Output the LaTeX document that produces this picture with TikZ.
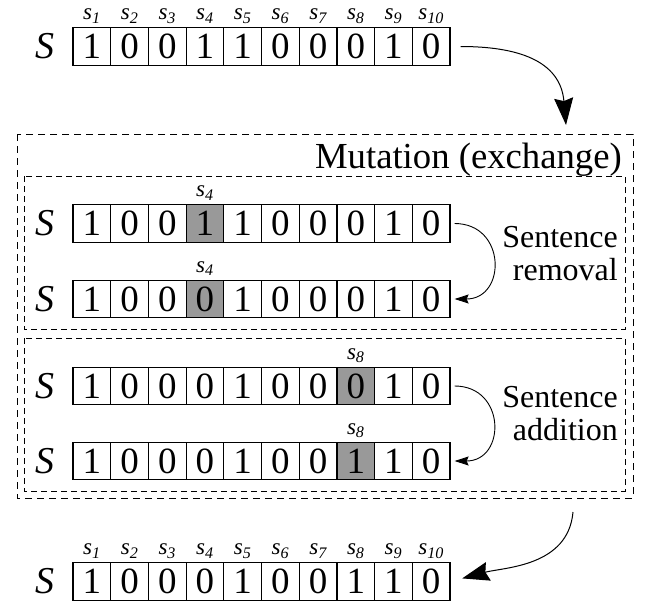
\documentclass[tikz,border=0pt]{standalone}
\usepackage{fontspec}
\setmainfont{LiberationSerif}[Extension=.ttf, UprightFont=*-Regular, ItalicFont=*-Italic, BoldFont=*-Bold, BoldItalicFont=*-BoldItalic]
\usetikzlibrary{arrows.meta}

\begin{document}
\begin{tikzpicture}[x=1pt, y=-1pt,
    cell/.style={draw, line width=1.2pt, minimum size=37.7pt, inner sep=0pt, font=\fontsize{37}{40}\selectfont},
    hit/.style={cell, fill=black!40},
    lab/.style={anchor=base, inner sep=0pt, font=\fontsize{23}{24}\selectfont\itshape},
    seq/.style={inner sep=0pt, font=\fontsize{38}{40}\selectfont\itshape},
    note/.style={anchor=east, align=right, inner sep=0pt, font=\fontsize{32}{33}\selectfont},
    outerbox/.style={line width=1pt, dash pattern=on 7pt off 5pt},
    innerbox/.style={line width=0.9pt, dash pattern=on 6pt off 4pt},
    bigarrow/.style={line width=1pt, -{Stealth[length=27pt, width=19pt, inset=3pt]}},
    smallarrow/.style={line width=0.9pt, -{Stealth[length=14pt, width=9pt, inset=2pt]}}]
    \useasboundingbox (0,0) rectangle (652,605);

    % mutation frames
    \draw[outerbox] (17,134) rectangle (633,498);
    \draw[innerbox] (24,176) rectangle (625,329);
    \draw[innerbox] (24,338) rectangle (625,491);
    \node[anchor=base east, inner sep=0pt, font=\fontsize{36.7}{40}\selectfont] (mut) at (622,168) {Mutation (exchange)};
    \node[note] (rem) at (618,253.5) {Sentence\\removal};
    \node[note] (add) at (618,413.5) {Sentence\\addition};

    % input
    \node[seq] (Sa) at (45,46.5) {S};
    \foreach \v [count=\i] in {1,0,0,1,1,0,0,0,1,0} {
        \node[cell] (a\i) at ({54.15+37.7*\i},46.5) {\v};
        \node[lab] (la\i) at ({54.15+37.7*\i},19.5) {s\textsubscript{\i}};
    }

    % removal
    \node[seq] (Sb) at (45,223.5) {S};
    \foreach \v [count=\i] in {1,0,0,1,1,0,0,0,1,0} {
        \ifnum\i=4 \def\st{hit}\else\def\st{cell}\fi
        \node[\st] (b\i) at ({54.15+37.7*\i},223.5) {\v};
    }
    \node[lab] (lb4) at (b4.center) [yshift=27pt] {s\textsubscript{4}};
    \node[seq] (Sc) at (45,299) {S};
    \foreach \v [count=\i] in {1,0,0,0,1,0,0,0,1,0} {
        \ifnum\i=4 \def\st{hit}\else\def\st{cell}\fi
        \node[\st] (c\i) at ({54.15+37.7*\i},299) {\v};
    }
    \node[lab] (lc4) at (c4.center) [yshift=27pt] {s\textsubscript{4}};

    % addition
    \node[seq] (Sd) at (45,386) {S};
    \foreach \v [count=\i] in {1,0,0,0,1,0,0,0,1,0} {
        \ifnum\i=8 \def\st{hit}\else\def\st{cell}\fi
        \node[\st] (d\i) at ({54.15+37.7*\i},386) {\v};
    }
    \node[lab] (ld8) at (d8.center) [yshift=27pt] {s\textsubscript{8}};
    \node[seq] (Se) at (45,461) {S};
    \foreach \v [count=\i] in {1,0,0,0,1,0,0,1,1,0} {
        \ifnum\i=8 \def\st{hit}\else\def\st{cell}\fi
        \node[\st] (e\i) at ({54.15+37.7*\i},461) {\v};
    }
    \node[lab] (le8) at (e8.center) [yshift=27pt] {s\textsubscript{8}};

    % output
    \node[seq] (Sf) at (45,581.5) {S};
    \foreach \v [count=\i] in {1,0,0,0,1,0,0,1,1,0} {
        \node[cell] (f\i) at ({54.15+37.7*\i},581.5) {\v};
        \node[lab] (lf\i) at ({54.15+37.7*\i},554.5) {s\textsubscript{\i}};
    }

    \coordinate (mutin) at (566,125);
    \coordinate (mutout) at (573,512);
    \draw[bigarrow, shorten <=10pt] (a10.east) to[out=0, in=95, looseness=1.2] (mutin);
    \draw[smallarrow, shorten <=4pt, shorten >=4pt] (b10.east) to[out=0, in=0, looseness=1.9] (c10.east);
    \draw[smallarrow, shorten <=4pt, shorten >=4pt] (d10.east) to[out=0, in=0, looseness=1.9] (e10.east);
    \draw[bigarrow, shorten >=12pt] (mutout) to[out=-95, in=15] (f10.east);
\end{tikzpicture}
\end{document}
